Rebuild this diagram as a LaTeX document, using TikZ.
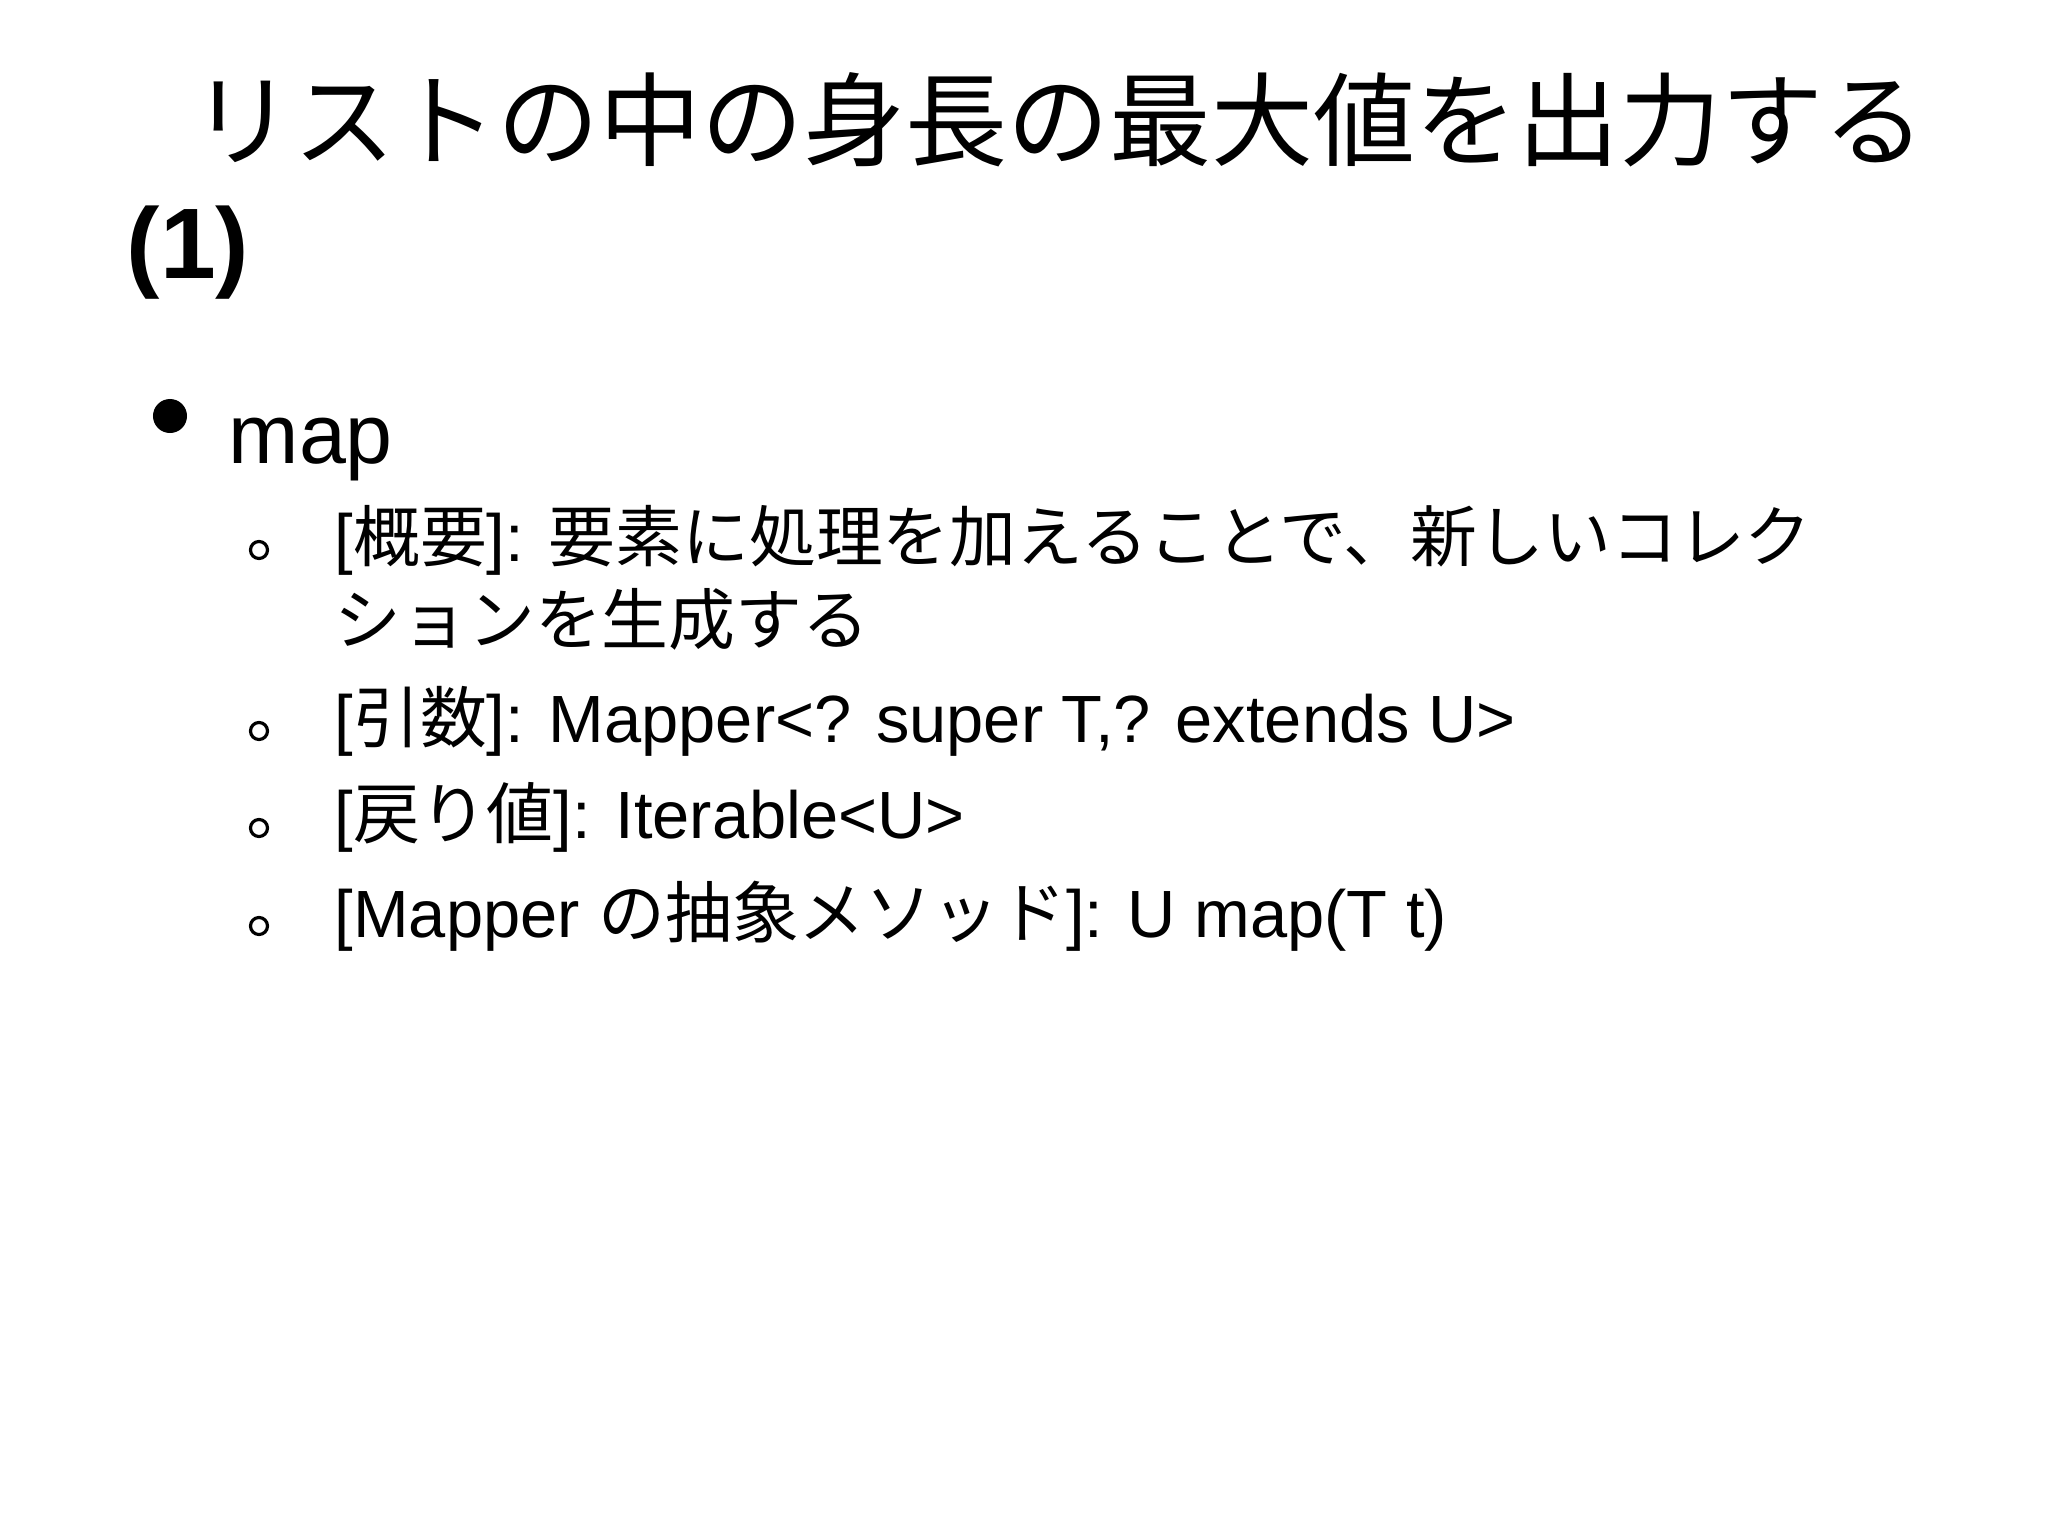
\documentclass[tikz,border=0pt]{standalone}
\usepackage{fontspec}
\setmainfont{Liberation Sans}
\newfontfamily\jp{Noto Sans CJK JP}
\begin{document}
\begin{tikzpicture}[x=0.01cm,y=-0.01cm,
  txt/.style={anchor=base west,inner sep=0pt,font=\fontsize{19pt}{21pt}\selectfont},
  sub/.style={circle,draw,line width=0.9pt,minimum size=0.17cm,inner sep=0pt}]
\useasboundingbox (0,0) rectangle (2048,1536);
\fill[white] (0,0) rectangle (2048,1536);
\node[anchor=base west,inner sep=0pt,font=\fontsize{29pt}{32pt}\selectfont\jp] (t1) at (191,158) {リストの中の身長の最大値を出力する};
\node[anchor=base west,inner sep=0pt,font=\fontsize{28.5pt}{32pt}\selectfont\bfseries] (t2) at (126,278) {(1)};
\fill (170,416) circle (0.17cm);
\node[anchor=base west,inner sep=0pt,font=\fontsize{24pt}{28pt}\selectfont] (m) at (228,463) {map};
\node[sub] (b1) at (259,550) {};
\node[txt] (l1) at (334,561) {[{\jp 概要}]: {\jp 要素に処理を加えることで、新しいコレク}};
\node[txt] (l1b) at (334,644) {\jp ションを生成する};
\node[sub] (b2) at (259,731) {};
\node[txt] (l2) at (334,742) {[{\jp 引数}]: Mapper<? super T,? extends U>};
\node[sub] (b3) at (259,828) {};
\node[txt] (l3) at (334,838) {[{\jp 戻り値}]: Iterable<U>};
\node[sub] (b4) at (259,926) {};
\node[txt] (l4) at (334,937) {[Mapper {\jp の抽象メソッド}]: U map(T t)};
\end{tikzpicture}
\end{document}
